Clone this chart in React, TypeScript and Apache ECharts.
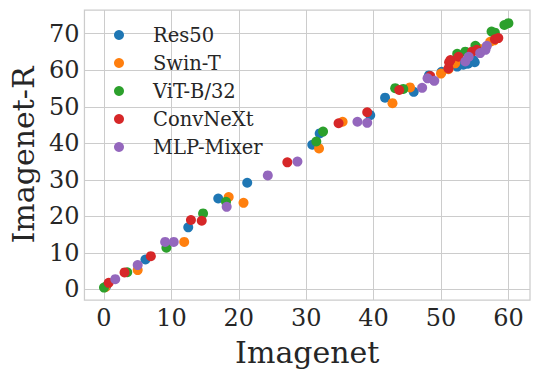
import React, { useEffect, useRef } from "react";
import * as echarts from "echarts";

const seriesNames = ["Res50", "Swin-T", "ViT-B/32", "ConvNeXt", "MLP-Mixer"];
const colors = ["#1f77b4", "#ff7f0e", "#2ca02c", "#d62728", "#9467bd"];
const xTicks = [0, 10, 20, 30, 40, 50, 60];
const yTicks = [0, 10, 20, 30, 40, 50, 60, 70];

const res50 = [
  [0.3, 0.8], [6.15, 8.2], [12.5, 17.0], [16.95, 24.9], [21.25, 29.2], [30.9, 39.6],
  [32.0, 42.7], [39.5, 47.7], [41.7, 52.5], [45.95, 54.1], [48.2, 58.6], [50.1, 59.6],
  [52.4, 61.0], [53.3, 61.5], [54.0, 61.8], [54.8, 62.8], [55.0, 62.2],
];
const swinT = [
  [0.2, 0.6], [5.0, 5.3], [11.9, 13.0], [18.5, 25.3], [20.7, 23.7], [31.9, 38.6],
  [35.4, 45.9], [42.8, 51.0], [45.4, 55.3], [50.0, 59.1], [51.1, 60.3], [52.1, 61.9],
  [55.8, 65.8], [57.3, 67.8], [57.9, 68.2],
];
const vitB32 = [
  [0.0, 0.5], [3.45, 4.7], [9.26, 11.4], [14.7, 20.8], [18.1, 24.0], [31.5, 40.5],
  [32.5, 43.2], [43.2, 55.1], [44.4, 54.9], [52.4, 64.5], [53.6, 65.1], [55.1, 66.7],
  [57.5, 70.6], [58.0, 70.3], [59.4, 72.4], [60.0, 72.9],
];
const convNeXt = [
  [0.7, 1.8], [3.05, 4.65], [6.95, 9.1], [12.9, 19.0], [14.5, 18.8], [27.2, 34.8],
  [34.8, 45.5], [39.05, 48.5], [43.8, 54.6], [48.4, 58.4], [51.1, 60.5], [51.2, 62.2],
  [51.4, 62.8], [52.6, 63.7], [54.6, 65.1], [55.3, 65.6], [58.0, 68.5], [58.5, 68.8],
];
const mlpMixer = [
  [1.67, 2.8], [5.0, 6.65], [9.07, 13.0], [10.35, 13.0], [18.2, 22.6], [24.3, 31.2],
  [28.7, 35.0], [37.6, 45.9], [39.05, 45.6], [47.2, 55.2], [48.0, 57.8], [49.0, 57.1],
  [53.6, 62.4], [54.1, 63.7], [55.8, 64.7], [56.6, 65.6], [56.8, 66.7],
];
const allData = [res50, swinT, vitB32, convNeXt, mlpMixer];

const FONT = "DejaVu Serif";
const TEXT = "#262626";
const GRID = "#cccccc";

export default function App() {
  const ref = useRef<HTMLDivElement>(null);
  useEffect(() => {
    document.body.style.margin = "0";
    const chart = echarts.init(ref.current!, null, { renderer: "svg" });
    const axisCommon = {
      type: "value",
      axisLine: { show: false },
      axisTick: { show: false },
      splitLine: { show: true, lineStyle: { color: GRID, width: 1 } },
      nameLocation: "middle",
      nameTextStyle: { fontFamily: FONT, fontSize: 30, color: TEXT },
    };
    chart.setOption({
      animation: false,
      backgroundColor: "#ffffff",
      grid: {
        left: 83,
        right: 10,
        top: 10,
        bottom: 76,
        show: true,
        borderColor: GRID,
        borderWidth: 1.25,
        containLabel: false,
      },
      legend: {
        orient: "vertical",
        left: 109,
        top: 20,
        icon: "circle",
        itemWidth: 58,
        itemHeight: 10,
        itemGap: 8,
        data: seriesNames,
        textStyle: { fontFamily: FONT, fontSize: 19.5, color: TEXT, padding: [0, 0, 0, 0] },
      },
      xAxis: {
        ...axisCommon,
        min: -2.9,
        max: 63.2,
        name: "Imagenet",
        nameGap: 37,
        axisTick: { show: false, customValues: xTicks },
        axisLabel: {
          customValues: xTicks,
          fontFamily: FONT,
          fontSize: 24,
          color: TEXT,
          margin: 6,
        },
      },
      yAxis: {
        ...axisCommon,
        min: -2.9,
        max: 76.5,
        name: "Imagenet-R",
        nameGap: 45,
        axisTick: { show: false, customValues: yTicks },
        axisLabel: {
          customValues: yTicks,
          fontFamily: FONT,
          fontSize: 24,
          color: TEXT,
          margin: 5,
        },
      },
      series: allData.map((d, i) => ({
        type: "scatter",
        name: seriesNames[i],
        data: d,
        symbol: "circle",
        symbolSize: 10,
        itemStyle: { color: colors[i], opacity: 1 },
        emphasis: { disabled: true },
      })),
    });
    return () => chart.dispose();
  }, []);
  return <div ref={ref} style={{ width: 540, height: 376 }} />;
}
